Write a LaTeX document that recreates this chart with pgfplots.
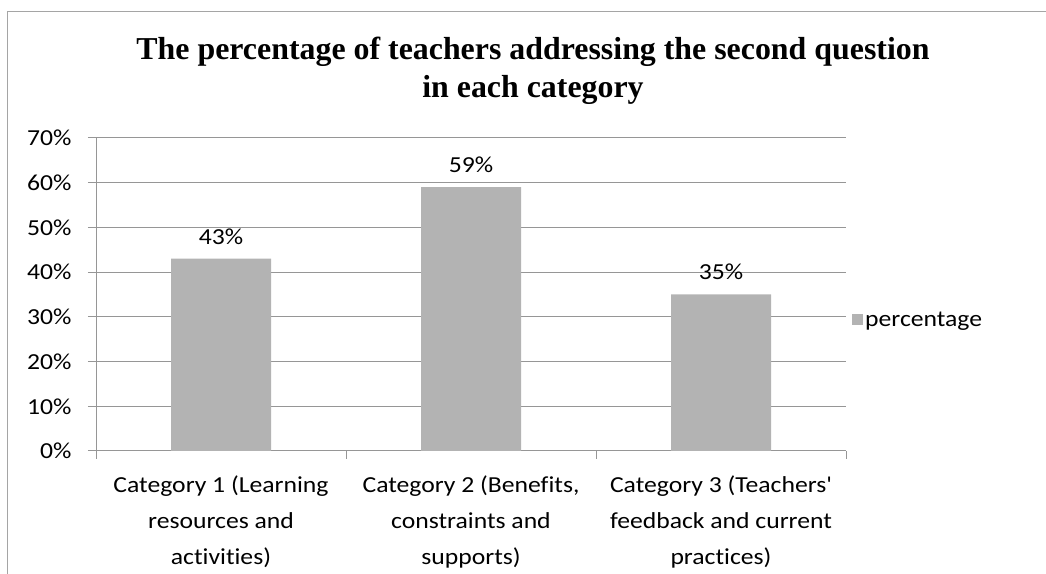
\documentclass[border=0pt]{standalone}
\usepackage{fontspec}
\setmainfont{Carlito}[FakeStretch=1.12, Ligatures={TeXOff,NoCommon}]
\newfontfamily\titlefont{Liberation Serif}
\usepackage{pgfplots}
\pgfplotsset{compat=1.18}
\definecolor{barcol}{RGB}{179,179,179}
\definecolor{gridcol}{RGB}{150,150,150}
\definecolor{framecol}{RGB}{165,165,165}
\begin{document}
\begin{tikzpicture}[x=1bp,y=1bp]
\useasboundingbox (0,0) rectangle (1046,574);
\draw[framecol, line width=1bp] (7.5,0) -- (7.5,562) -- (1046,562);
\node[font={\titlefont\bfseries\fontsize{32}{38}\selectfont}, align=center] at (533,503)
  {The percentage of teachers addressing the second question\\in each category};
\begin{axis}[
  at={(96bp,123bp)}, anchor=south west,
  scale only axis, width=750bp, height=313bp,
  xmin=0.5, xmax=3.5, ymin=0, ymax=70,
  axis x line=bottom, axis y line=left,
  axis line style={gridcol, line width=1bp, -},
  xtick={1,2,3},
  xticklabels={{Category 1 (Learning\\resources and\\activities)},
               {Category 2 (Benefits,\\constraints and\\supports)},
               {Category 3 (Teachers'\\feedback and current\\practices)}},
  xticklabel style={align=center, font=\fontsize{23}{36.5}\selectfont, yshift=-13bp},
  major x tick style={draw=none},
  minor xtick={0.5,1.5,2.5,3.5},
  minor tick length=8bp,
  ytick={0,10,...,70},
  yticklabels={0\%,10\%,20\%,30\%,40\%,50\%,60\%,70\%},
  yticklabel style={font=\fontsize{23}{28}\selectfont, xshift=-13bp},
  major tick length=8bp,
  tick align=outside,
  tick style={gridcol, line width=1bp},
  ymajorgrids,
  grid style={gridcol, line width=1bp},
  /pgf/number format/assume math mode=true,
  legend style={draw=none, at={(1.008,0.42)}, anchor=west, font=\fontsize{23}{28}\selectfont, inner sep=0pt},
  legend image code/.code={\fill[barcol] (0bp,-5.5bp) rectangle (11bp,5.5bp);},
  nodes near coords={\pgfmathprintnumber{\pgfplotspointmeta}\%},
  every node near coord/.append style={font=\fontsize{23}{28}\selectfont, anchor=south, yshift=11bp},
]
\addplot[ybar, bar width=100bp, fill=barcol, draw=none] coordinates {(1,43) (2,59) (3,35)};
\addlegendentry{percentage}
\end{axis}
\end{tikzpicture}
\end{document}
